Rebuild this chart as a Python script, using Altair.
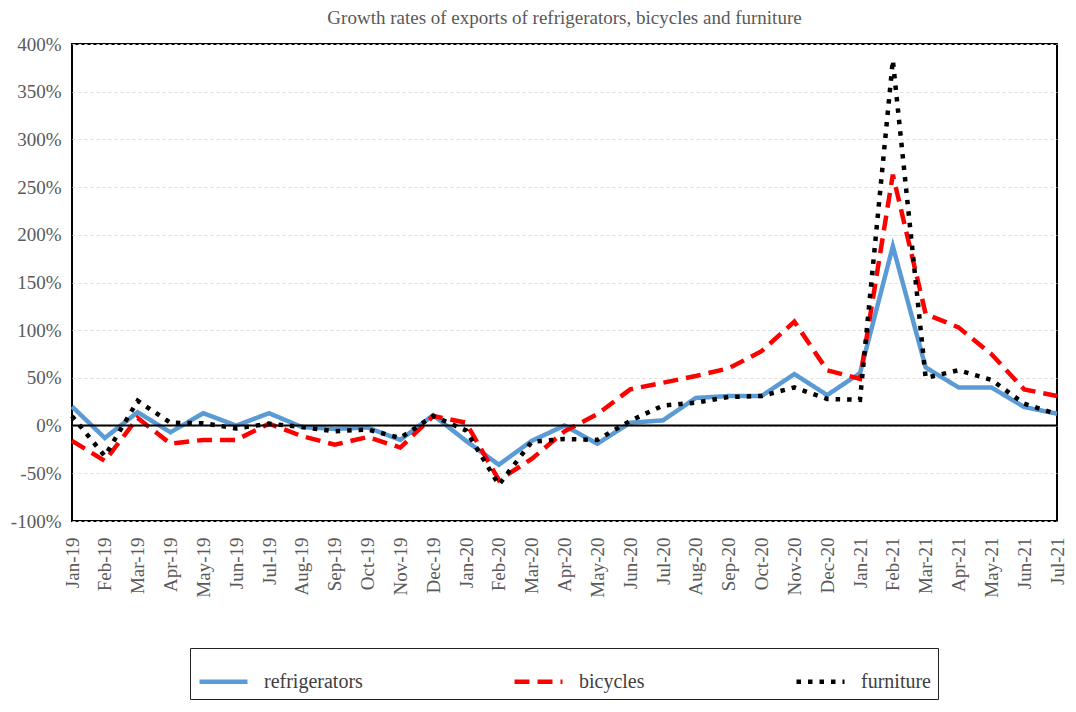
import altair as alt
import pandas as pd

months = ["Jan-19", "Feb-19", "Mar-19", "Apr-19", "May-19", "Jun-19", "Jul-19", "Aug-19",
          "Sep-19", "Oct-19", "Nov-19", "Dec-19", "Jan-20", "Feb-20", "Mar-20", "Apr-20",
          "May-20", "Jun-20", "Jul-20", "Aug-20", "Sep-20", "Oct-20", "Nov-20", "Dec-20",
          "Jan-21", "Feb-21", "Mar-21", "Apr-21", "May-21", "Jun-21", "Jul-21"]

refrigerators = [20, -13, 14, -7, 13, 0, 13, -1.5, -3.5, -2, -15, 11,
                 -16, -41, -16, 0, -19, 3, 5.5, 29, 31, 31, 54, 32,
                 55, 188, 61, 40, 40, 19.5, 12.5]
bicycles = [-16, -37, 8, -19, -15, -15, 2, -11, -20, -12, -23, 10,
            3, -57, -35, -6, 12, 38, 45, 52, 60, 78, 109, 58,
            49, 263, 117, 103, 75, 38, 31]
furniture = [10, -32, 26, 3, 2.5, -3, 2, -1.5, -6, -4, -13, 10,
             -5, -62, -17, -14, -15, 5, 21, 24, 30, 31, 40, 28,
             27, 383, 50, 58, 48, 23, 12]

series_names = ["refrigerators", "bicycles", "furniture"]
series_colors = ["#5b9bd5", "#ff0000", "#000000"]
series_dashes = [[1, 0], [15, 8], [4.5, 7]]
y_ticks = [-100, -50, 0, 50, 100, 150, 200, 250, 300, 350, 400]

rows = []
for name, vals in zip(series_names, [refrigerators, bicycles, furniture]):
    for m, v in zip(months, vals):
        rows.append({"month": m, "series": name, "value": v})
df = pd.DataFrame(rows)

FONT = "Liberation Serif"
GRAY = "#595959"

lines = alt.Chart(df).mark_line(strokeWidth=4.5).encode(
    x=alt.X("month:O", sort=months, title=None,
            scale=alt.Scale(padding=0),
            axis=alt.Axis(labelAngle=270, ticks=False, domain=False, labelPadding=16,
                          labelFont=FONT, labelFontSize=19, labelColor=GRAY)),
    y=alt.Y("value:Q", title=None,
            scale=alt.Scale(domain=[-100, 400], nice=False),
            axis=alt.Axis(values=y_ticks, labelExpr="datum.value + '%'", ticks=False,
                          domain=False, labelPadding=11, labelFont=FONT, labelFontSize=19,
                          labelColor=GRAY, grid=True, gridColor="#dddddd",
                          gridDash=[3, 3], gridWidth=1)),
    color=alt.Color("series:N", scale=alt.Scale(domain=series_names, range=series_colors),
                    title=None,
                    legend=alt.Legend(orient="none", legendX=118, legendY=604,
                                      direction="horizontal", columns=3,
                                      symbolType="stroke", symbolSize=2304,
                                      symbolStrokeWidth=4.5, labelOffset=14,
                                      columnPadding=142, padding=7,
                                      strokeColor="#222222", labelFont=FONT,
                                      labelFontSize=20, labelColor="#404040",
                                      labelLimit=300)),
    strokeDash=alt.StrokeDash("series:N",
                              scale=alt.Scale(domain=series_names, range=series_dashes),
                              title=None),
)

zero = alt.Chart(pd.DataFrame({"y": [0]})).mark_rule(color="black", strokeWidth=2).encode(
    y=alt.Y("y:Q")
)

chart = alt.layer(lines, zero).properties(
    width=985,
    height=477,
    padding={"left": 2, "top": 1, "right": 0, "bottom": 0},
    title=alt.TitleParams(
        "Growth rates of exports of refrigerators, bicycles and furniture",
        font=FONT, fontSize=19, fontWeight="normal", color=GRAY, anchor="middle", offset=7,
    ),
).configure_view(stroke="black", strokeWidth=2)

chart.save("out.html", embed_options={"renderer": "svg", "actions": False})
